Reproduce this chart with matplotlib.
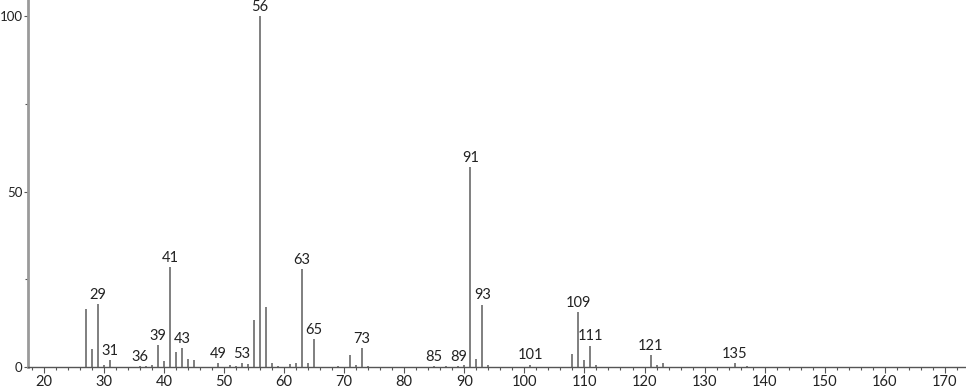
import matplotlib
matplotlib.use("Agg")
import matplotlib.pyplot as plt
from matplotlib.ticker import MultipleLocator

# --- dados do espectro (m/z, intensidade relativa) ---
mz = [27, 28, 29, 30, 31, 36, 37, 38, 39, 40, 41, 42, 43, 44, 45,
      49, 51, 52, 53, 54, 55, 56, 57, 58, 59, 61, 62, 63, 64, 65,
      69, 71, 72, 73, 74, 85, 87, 89, 90, 91, 92, 93, 94, 101,
      108, 109, 110, 111, 112, 121, 122, 123, 135, 137]
intensity = [16.6, 5.2, 18.0, 0.6, 2.1, 0.3, 0.3, 0.5, 6.3, 1.8, 28.4, 4.4, 5.5, 2.2, 1.9,
             1.0, 0.7, 0.4, 1.0, 0.9, 13.5, 100.0, 17.0, 1.0, 0.4, 0.8, 1.2, 27.8, 1.0, 8.0,
             0.3, 3.3, 0.5, 5.4, 0.3, 0.3, 0.3, 0.3, 0.5, 57.0, 2.4, 17.8, 0.5, 0.7,
             3.8, 15.7, 2.1, 6.1, 0.5, 3.5, 0.7, 1.0, 1.0, 0.3]
labeled = [29, 31, 36, 39, 41, 43, 49, 53, 56, 63, 65, 73, 85, 89, 91, 93,
           101, 109, 111, 121, 135]

plt.rcParams['font.family'] = ['Lato', 'DejaVu Sans']

fig = plt.figure(figsize=(9.66, 3.89), dpi=100)
ax = fig.add_axes([0.029, 0.0566, 0.971, 0.9434])

ax.vlines(mz, 0, intensity, color='#7f7f7f', linewidth=1.4)

for m, h in zip(mz, intensity):
    if m in labeled:
        ax.annotate(str(m), (m, h), xytext=(0, 1.5), textcoords='offset points',
                    ha='center', va='bottom', fontsize=10.5, color='#222222')

ax.set_xlim(17.4, 173.5)
ax.set_ylim(0, 104.6)

ax.xaxis.set_major_locator(MultipleLocator(10))
ax.xaxis.set_minor_locator(MultipleLocator(2))
ax.yaxis.set_major_locator(MultipleLocator(50))
ax.yaxis.set_minor_locator(MultipleLocator(25))

for s in ['top', 'right']:
    ax.spines[s].set_visible(False)
ax.spines['left'].set_color('#9a9a9a')
ax.spines['left'].set_linewidth(2)
ax.spines['bottom'].set_color('#555555')
ax.spines['bottom'].set_linewidth(1)

ax.tick_params(axis='x', which='major', labelsize=10.5, colors='#555555',
               labelcolor='#222222', length=4, width=0.8, pad=2)
ax.tick_params(axis='y', which='major', labelsize=9.5, colors='#555555',
               labelcolor='#222222', length=3, width=0.8, pad=1)
ax.tick_params(axis='both', which='minor', colors='#555555', length=2.5, width=0.8)

fig.savefig('out.png', dpi=100)
